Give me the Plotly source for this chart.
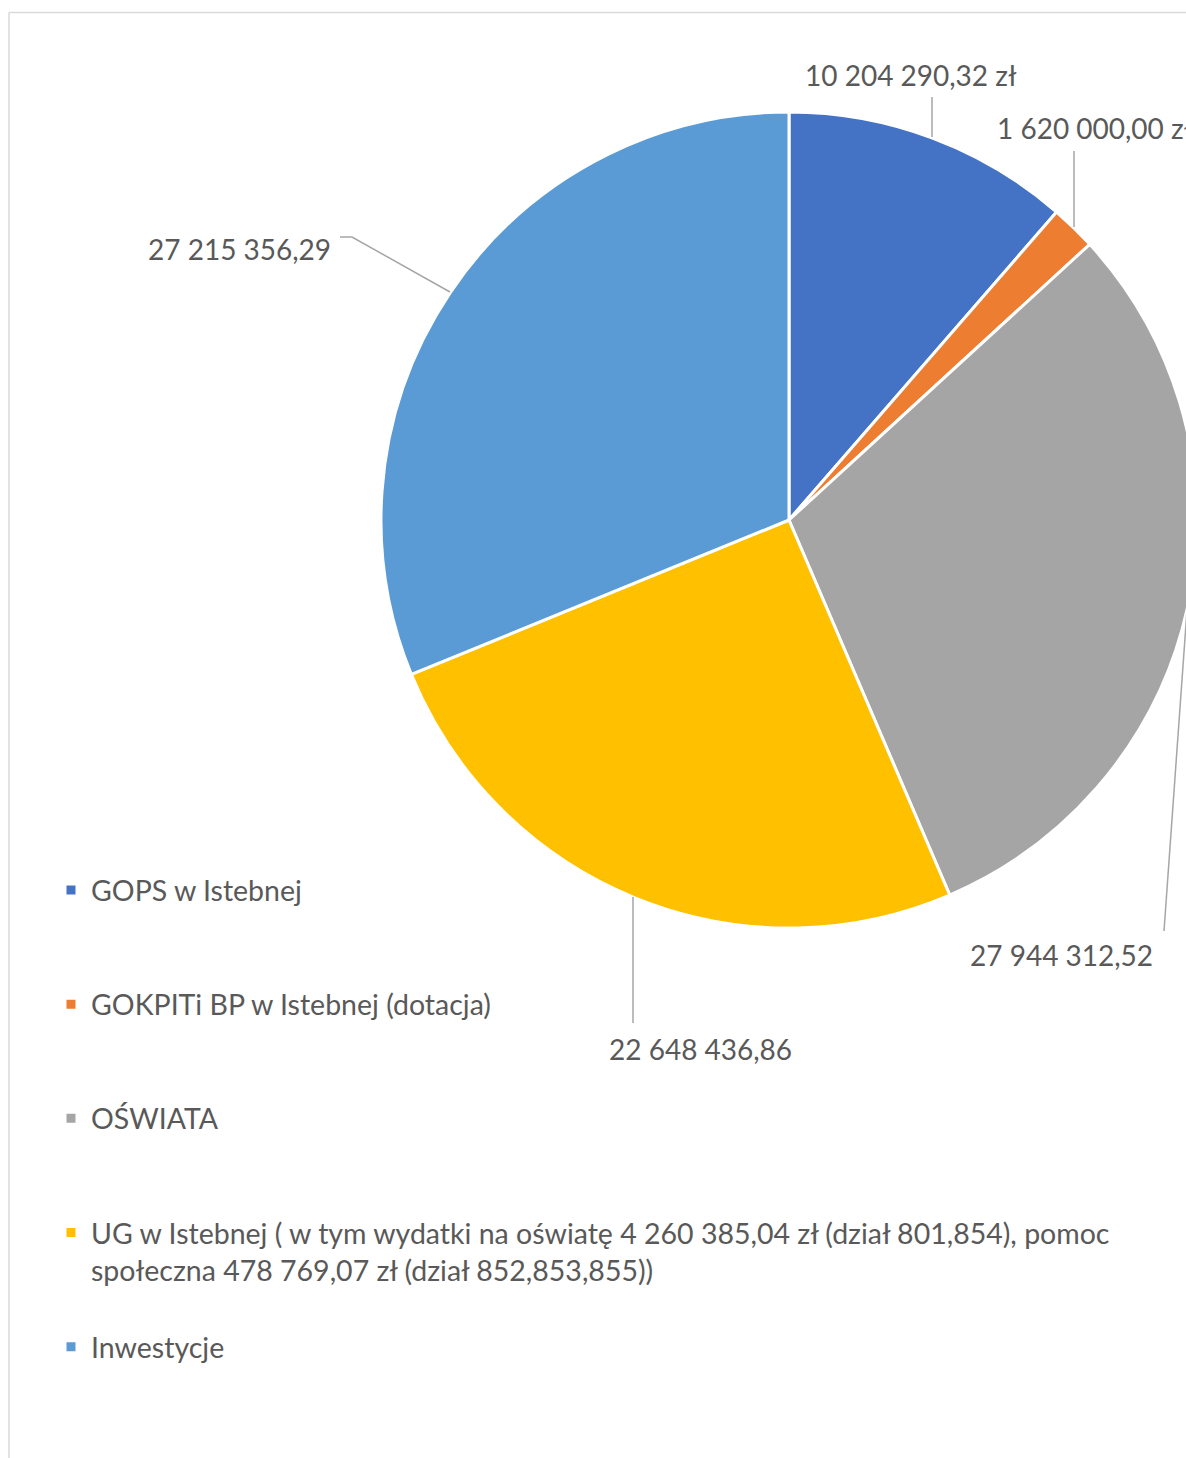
import plotly.graph_objects as go

# ---- data ----
categories = [
    "GOPS w Istebnej",
    "GOKPITi BP w Istebnej (dotacja)",
    "OŚWIATA",
    "UG w Istebnej ( w tym wydatki na oświatę 4 260 385,04 zł (dział 801,854), pomoc<br>społeczna 478 769,07 zł (dział 852,853,855))",
    "Inwestycje",
]
# slice sizes as drawn in the picture (the printed labels of OŚWIATA and
# Inwestycje are swapped relative to the slice sizes in the original chart)
values = [10204290.32, 1620000.00, 27215356.29, 22648436.86, 27944312.52]
# values printed in the data labels next to each slice
label_values = [10204290.32, 1620000.00, 27944312.52, 22648436.86, 27215356.29]
value_suffix = [" zł", " zł", "", "", ""]
colors = ["#4472C4", "#ED7D31", "#A5A5A5", "#FFC000", "#5B9BD5"]

# ---- layout constants (pixels) ----
W, H = 1200, 1458
FONT = "Lato"
TXT = "#595959"


def px(x, y):
    return x / W, 1 - y / H


def fmt(v):
    return f"{v:,.2f}".replace(",", " ").replace(".", ",")


# legend labels padded with blank lines for Excel-like spacing
legend_labels = []
for c in categories:
    n = c.count("<br>") + 1
    legend_labels.append(c + "<br> " * (3 - n))

fig = go.Figure()
fig.add_trace(go.Pie(
    labels=legend_labels,
    values=values,
    sort=False,
    direction="clockwise",
    rotation=0,
    marker=dict(colors=colors, line=dict(color="white", width=3)),
    textinfo="none",
    hoverinfo="label+value",
    domain=dict(x=[381 / W, 1197 / W], y=[1 - 928 / H, 1 - 112 / H]),
    showlegend=True,
))

# data labels (positions in px) and leader lines
label_pos = [(911, 75, "center"), (995, 128, "left"), (1155, 955, "right"),
             (700, 1049, "center"), (239, 249, "center")]
leaders = [
    [(932, 97), (932, 137)],
    [(1074, 151), (1074, 227)],
    [(1164, 931), (1187, 610)],
    [(633, 1023), (633, 897)],
    [(340, 237), (352, 237), (450, 292)],
]
annotations = []
shapes = []
for v, suf, (lx, ly, anc), pts in zip(label_values, value_suffix, label_pos, leaders):
    ax_, ay_ = px(lx, ly)
    annotations.append(dict(
        x=ax_, y=ay_, xref="paper", yref="paper", xanchor=anc, yanchor="middle",
        text=fmt(v) + suf, showarrow=False, font=dict(family=FONT, size=28, color=TXT),
    ))
    path = ""
    for i, (x, y) in enumerate(pts):
        X, Y = px(x, y)
        path += ("M" if i == 0 else "L") + f"{X},{Y} "
    shapes.append(dict(type="path", xref="paper", yref="paper", path=path.strip(),
                       line=dict(color="#A6A6A6", width=1.5)))

# chart frame (left and top border)
fx, fy = px(9, 12.5)
shapes.append(dict(type="line", xref="paper", yref="paper", x0=fx, x1=1.2, y0=fy, y1=fy,
                   line=dict(color="#D9D9D9", width=1.5)))
shapes.append(dict(type="line", xref="paper", yref="paper", x0=fx, x1=fx, y0=fy, y1=-0.1,
                   line=dict(color="#D9D9D9", width=1.5)))

lx0, ly0 = px(51, 865)
fig.update_layout(
    width=W, height=H,
    margin=dict(l=0, r=0, t=0, b=0),
    paper_bgcolor="white",
    plot_bgcolor="white",
    font=dict(family=FONT, size=28, color=TXT),
    showlegend=True,
    legend=dict(
        x=lx0, y=ly0, xanchor="left", yanchor="top",
        font=dict(family=FONT, size=28.5, color=TXT),
        valign="top", traceorder="normal", bgcolor="rgba(0,0,0,0)",
    ),
    annotations=annotations,
    shapes=shapes,
)

fig.write_html(
    "out.html",
    config={"displayModeBar": False},
    post_script="document.body.style.margin='0';document.body.style.overflow='hidden';",
)
